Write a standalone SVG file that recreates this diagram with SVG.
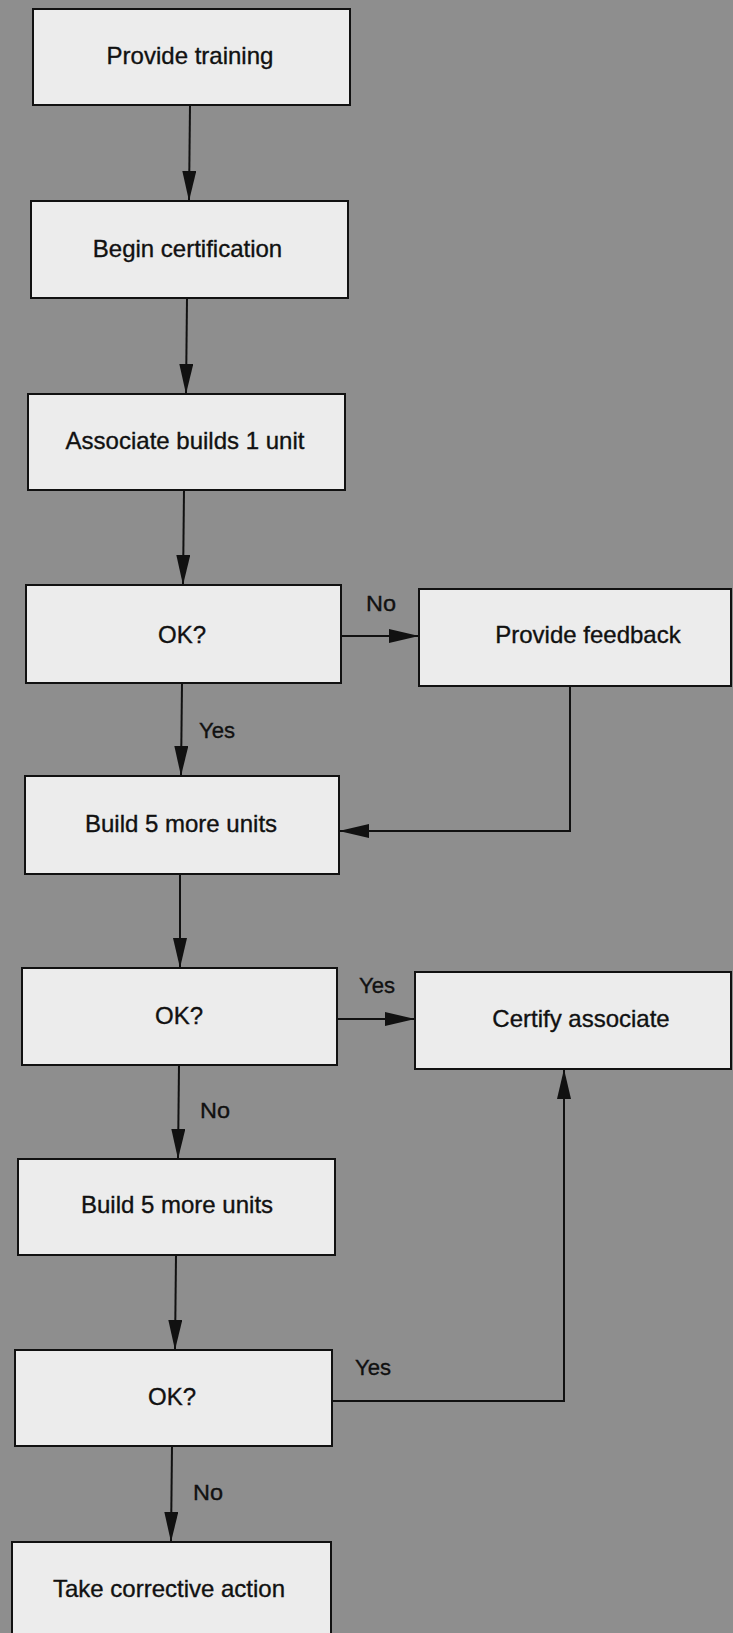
<svg xmlns="http://www.w3.org/2000/svg" width="733" height="1633" viewBox="0 0 733 1633">
<style>
.box{fill:#ececec;stroke:#111;stroke-width:2}
.t{font-family:"Liberation Sans",Arial,sans-serif;font-size:24px;fill:#111;stroke:#111;stroke-width:0.35;text-anchor:middle}
.lbl{font-family:"Liberation Sans",Arial,sans-serif;font-size:22px;fill:#111;stroke:#111;stroke-width:0.35}
.c{fill:none;stroke:#111;stroke-width:2}
</style>
<defs>
<marker id="arr" viewBox="0 0 30 14" refX="30" refY="7" markerWidth="30" markerHeight="14" markerUnits="userSpaceOnUse" orient="auto">
<path d="M0,0 L30,7 L0,14 z" fill="#111"/>
</marker>
</defs>
<rect x="0" y="0" width="733" height="1633" fill="#8e8e8e"/>
<g id="connectors">
<path class="c" d="M190,105 L189,201" marker-end="url(#arr)"/>
<path class="c" d="M187,298 L186,394" marker-end="url(#arr)"/>
<path class="c" d="M184,490 L183,585" marker-end="url(#arr)"/>
<path class="c" d="M341,636 L419,636" marker-end="url(#arr)"/>
<path class="c" d="M182,683 L181,776" marker-end="url(#arr)"/>
<path class="c" d="M570,686 L570,831 L339,831" marker-end="url(#arr)"/>
<path class="c" d="M180,874 L180,968" marker-end="url(#arr)"/>
<path class="c" d="M337,1019 L415,1019" marker-end="url(#arr)"/>
<path class="c" d="M179,1065 L178,1159" marker-end="url(#arr)"/>
<path class="c" d="M176,1255 L175,1350" marker-end="url(#arr)"/>
<path class="c" d="M332,1401 L564,1401 L564,1069" marker-end="url(#arr)"/>
<path class="c" d="M172,1446 L171,1542" marker-end="url(#arr)"/>
<text class="lbl" x="366" y="611" textLength="30" lengthAdjust="spacingAndGlyphs">No</text>
<text class="lbl" x="199" y="738" textLength="36" lengthAdjust="spacingAndGlyphs">Yes</text>
<text class="lbl" x="359" y="993" textLength="36" lengthAdjust="spacingAndGlyphs">Yes</text>
<text class="lbl" x="200" y="1118" textLength="30" lengthAdjust="spacingAndGlyphs">No</text>
<text class="lbl" x="355" y="1375" textLength="36" lengthAdjust="spacingAndGlyphs">Yes</text>
<text class="lbl" x="193" y="1500" textLength="30" lengthAdjust="spacingAndGlyphs">No</text>
</g>
<g id="n1"><rect class="box" x="33" y="9" width="317" height="96"/><text class="t" x="190" y="64">Provide training</text></g>
<g id="n2"><rect class="box" x="31" y="201" width="317" height="97"/><text class="t" x="187.5" y="257">Begin certification</text></g>
<g id="n3"><rect class="box" x="28" y="394" width="317" height="96"/><text class="t" x="185" y="449">Associate builds 1 unit</text></g>
<g id="n4"><rect class="box" x="26" y="585" width="315" height="98"/><text class="t" x="182" y="643">OK?</text></g>
<g id="n5"><rect class="box" x="419" y="589" width="312" height="97"/><text class="t" x="588" y="643">Provide feedback</text></g>
<g id="n6"><rect class="box" x="25" y="776" width="314" height="98"/><text class="t" x="181" y="832">Build 5 more units</text></g>
<g id="n7"><rect class="box" x="22" y="968" width="315" height="97"/><text class="t" x="179" y="1024">OK?</text></g>
<g id="n8"><rect class="box" x="415" y="972" width="316" height="97"/><text class="t" x="581" y="1027">Certify associate</text></g>
<g id="n9"><rect class="box" x="18" y="1159" width="317" height="96"/><text class="t" x="177" y="1213">Build 5 more units</text></g>
<g id="n10"><rect class="box" x="15" y="1350" width="317" height="96"/><text class="t" x="172" y="1405">OK?</text></g>
<g id="n11"><rect class="box" x="12" y="1542" width="319" height="100"/><text class="t" x="169" y="1597">Take corrective action</text></g>
</svg>
